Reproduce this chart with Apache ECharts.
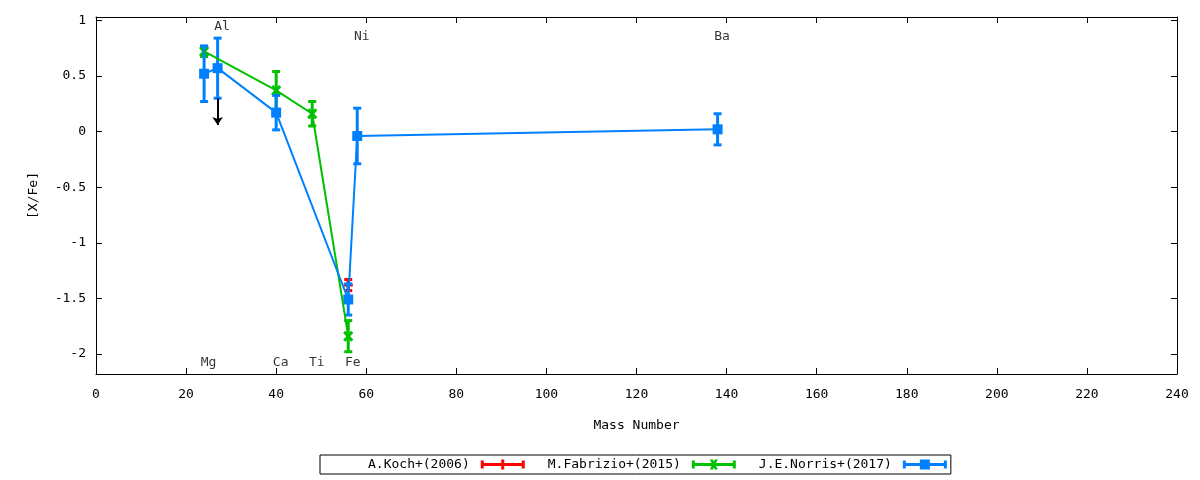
<!DOCTYPE html>
<html>
<head>
<meta charset="utf-8">
<script src="https://cdn.jsdelivr.net/npm/echarts@6/dist/echarts.min.js"></script>
<style>html,body{margin:0;padding:0;background:#fff;}#c{width:1200px;height:480px;}</style>
</head>
<body>
<div id="c"></div>
<script>
// ---- data ----
const kochMass = [56];
const kochVal = [-1.38];
const kochErr = [0.05];

const fabMass = [24, 40, 48, 56];
const fabVal = [0.72, 0.37, 0.16, -1.84];
const fabErr = [0.045, 0.17, 0.11, 0.14];

const norMass = [24, 27, 40, 56, 58, 138];
const norVal = [0.52, 0.57, 0.17, -1.51, -0.04, 0.02];
const norErr = [0.25, 0.27, 0.155, 0.14, 0.25, 0.14];

// upper-limit arrow (Al, Norris)
const limitMass = 27;
const limitFrom = 0.30;
const limitTo = 0.06;

const elemNames = ['Mg', 'Ca', 'Ti', 'Fe', 'Al', 'Ni', 'Ba'];
const elemX = [25, 41, 49, 57, 28, 59, 139];
const elemY = [-2.08, -2.08, -2.08, -2.08, 0.94, 0.85, 0.85];

const yTicks = [-2, -1.5, -1, -0.5, 0, 0.5, 1];
const seriesNames = ['A.Koch+(2006)', 'M.Fabrizio+(2015)', 'J.E.Norris+(2017)'];

// ---- styling ----
const FONT = "'DejaVu Sans Mono', monospace";
const RED = '#ff0000', GREEN = '#00c000', BLUE = '#0080ff';

function zip3(a, b, c) { return a.map((v, i) => [v, b[i], c[i]]); }
function zip2(a, b) { return a.map((v, i) => [v, b[i]]); }

function makeRender(marker) {
  return function (params, api) {
    const x = api.value(0), y = api.value(1), e = api.value(2);
    const c = api.coord([x, y]);
    const t = api.coord([x, y + e]);
    const b = api.coord([x, y - e]);
    const color = api.visual('color');
    const st = { stroke: color, lineWidth: 3 };
    const ch = [
      { type: 'line', shape: { x1: c[0], y1: t[1], x2: c[0], y2: b[1] }, style: st },
      { type: 'line', shape: { x1: c[0] - 4, y1: t[1], x2: c[0] + 4, y2: t[1] }, style: st },
      { type: 'line', shape: { x1: c[0] - 4, y1: b[1], x2: c[0] + 4, y2: b[1] }, style: st }
    ];
    if (marker === 'square') {
      ch.push({ type: 'rect', shape: { x: c[0] - 5, y: c[1] - 5, width: 10, height: 10 }, style: { fill: color } });
    } else if (marker === 'cross') {
      ch.push({ type: 'line', shape: { x1: c[0] - 4, y1: c[1] - 4.5, x2: c[0] + 4, y2: c[1] + 4.5 }, style: st });
      ch.push({ type: 'line', shape: { x1: c[0] + 4, y1: c[1] - 4.5, x2: c[0] - 4, y2: c[1] + 4.5 }, style: st });
    } else {
      ch.push({ type: 'line', shape: { x1: c[0] - 4.5, y1: c[1], x2: c[0] + 4.5, y2: c[1] }, style: st });
      ch.push({ type: 'line', shape: { x1: c[0], y1: c[1] - 4.5, x2: c[0], y2: c[1] + 4.5 }, style: st });
    }
    return { type: 'group', children: ch };
  };
}

const capsPath = 'M0 1L3 1L3 9L0 9ZM41 1L44 1L44 9L41 9ZM0 3.5L44 3.5L44 6.5L0 6.5Z';
const iconPlus = 'path://' + capsPath + 'M20.5 0L23.5 0L23.5 10L20.5 10Z';
const iconCross = 'path://' + capsPath + 'M18 0L21 0L26 10L23 10ZM23 0L26 0L21 10L18 10Z';
const iconSquare = 'path://' + capsPath + 'M17 0L27 0L27 10L17 10Z';

const axisLineStyle = { show: true, onZero: false, lineStyle: { color: '#000', width: 1 } };
const tickStyle = { show: true, inside: true, length: 6, lineStyle: { color: '#000', width: 1 } };

const chart = echarts.init(document.getElementById('c'), null, { renderer: 'canvas' });
chart.setOption({
  animation: false,
  backgroundColor: '#fff',
  textStyle: { fontFamily: FONT },
  grid: { left: 96, right: 23, top: 17, bottom: 106, containLabel: false },
  legend: {
    data: [
      { name: seriesNames[0], icon: iconPlus },
      { name: seriesNames[1], icon: iconCross },
      { name: seriesNames[2], icon: iconSquare }
    ],
    left: 320, top: 455,
    align: 'right',
    orient: 'horizontal',
    itemWidth: 44, itemHeight: 10, itemGap: 23,
    padding: [2, 4, 2, 48],
    borderColor: '#000', borderWidth: 1,
    selectedMode: false,
    textStyle: { fontFamily: FONT, fontSize: 13, color: '#000', padding: [0, 6, 0, 0], lineHeight: 15 }
  },
  xAxis: [
    {
      type: 'value', position: 'bottom', min: 0, max: 240, interval: 20,
      name: 'Mass Number', nameLocation: 'middle', nameGap: 45,
      nameTextStyle: { fontFamily: FONT, fontSize: 13, color: '#000' },
      axisLine: axisLineStyle,
      axisTick: tickStyle,
      axisLabel: { fontFamily: FONT, fontSize: 13, color: '#000', margin: 14 },
      splitLine: { show: false }
    },
    {
      type: 'value', position: 'top', min: 0, max: 240, interval: 20,
      axisLine: axisLineStyle,
      axisTick: tickStyle,
      axisLabel: { show: false },
      splitLine: { show: false }
    }
  ],
  yAxis: [
    {
      type: 'value', position: 'left', min: -2.18, max: 1.03,
      name: '[X/Fe]', nameLocation: 'middle', nameGap: 56, nameRotate: 90,
      nameTextStyle: { fontFamily: FONT, fontSize: 13, color: '#000' },
      axisLine: axisLineStyle,
      axisTick: Object.assign({}, tickStyle, { customValues: yTicks }),
      axisLabel: { fontFamily: FONT, fontSize: 13, color: '#000', margin: 10, customValues: yTicks },
      splitLine: { show: false }
    },
    {
      type: 'value', position: 'right', min: -2.18, max: 1.03,
      axisLine: axisLineStyle,
      axisTick: Object.assign({}, tickStyle, { customValues: yTicks }),
      axisLabel: { show: false, customValues: yTicks },
      splitLine: { show: false }
    }
  ],
  series: [
    {
      name: 'koch-line', type: 'line', xAxisIndex: 0, yAxisIndex: 0,
      data: zip2(kochMass, kochVal), showSymbol: false, symbol: 'none',
      lineStyle: { color: RED, width: 2 }, itemStyle: { color: RED }, silent: true
    },
    {
      name: seriesNames[0], type: 'custom', xAxisIndex: 0, yAxisIndex: 0,
      data: zip3(kochMass, kochVal, kochErr), encode: { x: 0, y: 1 },
      itemStyle: { color: RED }, renderItem: makeRender('plus'), silent: true
    },
    {
      name: 'fab-line', type: 'line', xAxisIndex: 0, yAxisIndex: 0,
      data: zip2(fabMass, fabVal), showSymbol: false, symbol: 'none',
      lineStyle: { color: GREEN, width: 2 }, itemStyle: { color: GREEN }, silent: true
    },
    {
      name: seriesNames[1], type: 'custom', xAxisIndex: 0, yAxisIndex: 0,
      data: zip3(fabMass, fabVal, fabErr), encode: { x: 0, y: 1 },
      itemStyle: { color: GREEN }, renderItem: makeRender('cross'), silent: true
    },
    {
      name: 'nor-line', type: 'line', xAxisIndex: 0, yAxisIndex: 0,
      data: zip2(norMass, norVal), showSymbol: false, symbol: 'none',
      lineStyle: { color: BLUE, width: 2 }, itemStyle: { color: BLUE }, silent: true,
      markLine: {
        silent: true, symbol: ['none', 'arrow'], symbolSize: 8,
        lineStyle: { color: '#000', width: 2, type: 'solid' },
        itemStyle: { color: '#000' },
        label: { show: false },
        data: [[{ coord: [limitMass, limitFrom] }, { coord: [limitMass, limitTo] }]]
      }
    },
    {
      name: seriesNames[2], type: 'custom', xAxisIndex: 0, yAxisIndex: 0,
      data: zip3(norMass, norVal, norErr), encode: { x: 0, y: 1 },
      itemStyle: { color: BLUE }, renderItem: makeRender('square'), silent: true
    },
    {
      name: 'elements', type: 'scatter', xAxisIndex: 0, yAxisIndex: 0,
      data: elemNames.map((n, i) => ({ name: n, value: [elemX[i], elemY[i]] })),
      symbolSize: 1, itemStyle: { color: 'rgba(0,0,0,0)' }, silent: true,
      label: { show: true, position: 'inside', formatter: '{b}', fontFamily: FONT, fontSize: 13, color: '#000' }
    }
  ]
});
</script>
</body>
</html>
